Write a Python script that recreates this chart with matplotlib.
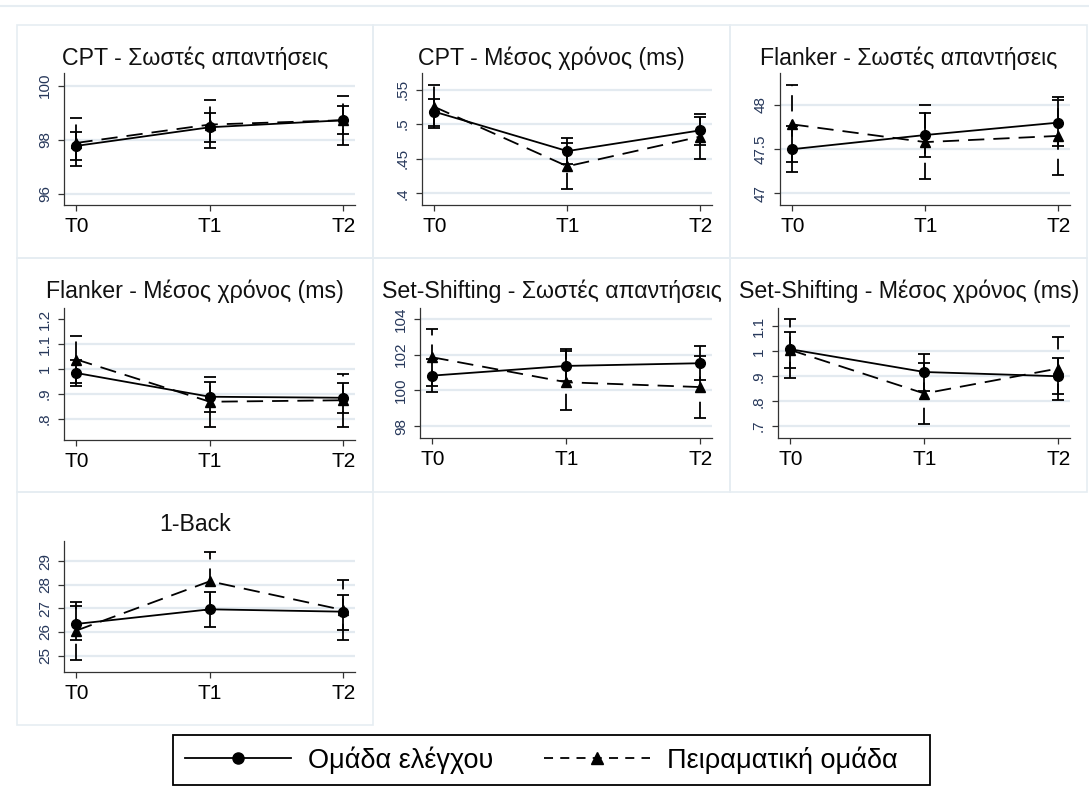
import matplotlib
matplotlib.use("Agg")
import matplotlib.pyplot as plt
from matplotlib.lines import Line2D
from matplotlib.patches import Rectangle

plt.rcParams["font.family"] = ["Liberation Sans", "DejaVu Sans"]

# -----------------------
# Data
# -----------------------
times = ["T0", "T1", "T2"]

titles = [
    "CPT - Σωστές απαντήσεις",
    "CPT - Μέσος χρόνος (ms)",
    "Flanker - Σωστές απαντήσεις",
    "Flanker - Μέσος χρόνος (ms)",
    "Set-Shifting - Σωστές απαντήσεις",
    "Set-Shifting - Μέσος χρόνος (ms)",
    "1-Back",
]

ctrl_mean = [
    [97.77, 98.46, 98.72],
    [0.518, 0.461, 0.491],
    [47.50, 47.66, 47.80],
    [0.984, 0.889, 0.885],
    [100.83, 101.37, 101.52],
    [1.008, 0.917, 0.900],
    [26.34, 26.96, 26.86],
]
ctrl_low = [
    [97.25, 97.93, 98.22],
    [0.498, 0.442, 0.470],
    [47.24, 47.415, 47.536],
    [0.933, 0.830, 0.823],
    [99.89, 100.52, 100.58],
    [0.933, 0.840, 0.828],
    [25.64, 26.22, 26.10],
]
ctrl_high = [
    [98.30, 99.00, 99.25],
    [0.537, 0.480, 0.511],
    [47.76, 47.906, 48.057],
    [1.038, 0.947, 0.945],
    [101.77, 102.22, 102.48],
    [1.077, 0.991, 0.975],
    [27.10, 27.70, 27.57],
]

exp_mean = [
    [97.88, 98.56, 98.72],
    [0.525, 0.439, 0.482],
    [47.78, 47.58, 47.65],
    [1.038, 0.869, 0.875],
    [101.85, 100.46, 100.19],
    [1.005, 0.831, 0.931],
    [26.06, 28.15, 26.93],
]
exp_low = [
    [97.04, 97.70, 97.80],
    [0.494, 0.406, 0.449],
    [47.35, 47.158, 47.207],
    [0.945, 0.769, 0.769],
    [100.27, 98.89, 98.44],
    [0.895, 0.708, 0.804],
    [24.82, 26.92, 25.64],
]
exp_high = [
    [98.79, 99.46, 99.62],
    [0.557, 0.472, 0.515],
    [48.226, 48.00, 48.087],
    [1.131, 0.968, 0.979],
    [103.41, 102.32, 101.94],
    [1.130, 0.952, 1.059],
    [27.26, 29.38, 28.20],
]

ytick_values = [
    [96, 98, 100],
    [0.4, 0.45, 0.5, 0.55],
    [47, 47.5, 48],
    [0.8, 0.9, 1.0, 1.1, 1.2],
    [98, 100, 102, 104],
    [0.7, 0.8, 0.9, 1.0, 1.1],
    [25, 26, 27, 28, 29],
]
ytick_labels = [
    ["96", "98", "100"],
    [".4", ".45", ".5", ".55"],
    ["47", "47.5", "48"],
    [".8", ".9", "1", "1.1", "1.2"],
    ["98", "100", "102", "104"],
    [".7", ".8", ".9", "1", "1.1"],
    ["25", "26", "27", "28", "29"],
]

legend_labels = ["Ομάδα ελέγχου", "Πειραματική ομάδα"]

# -----------------------
# Layout / style
# -----------------------
W, H = 1089, 811
ylims = [
    (95.58, 100.47), (0.383, 0.574), (46.87, 48.36), (0.716, 1.244),
    (97.35, 104.6), (0.653, 1.173), (24.30, 29.86),
]
# axes rectangles in pixels: left, top, right, bottom
axes_px = [
    (64, 73, 355, 205), (422, 73, 712, 205), (780, 73, 1070, 205),
    (64, 308, 355, 440), (420, 308, 712, 438), (778, 308, 1070, 438),
    (64, 541, 355, 672),
]
col_edges = [16.5, 373.3, 730.3, 1087]
row_edges = [25, 258.3, 491.5, 724.5]
legend_box = (173, 735, 930, 785)
grid_skip = {3: [1.2]}
blue_caps = [0, 3]

BLUE = "#2a5486"
TICK_COL = "#26375a"
GRID_COL = "#e3eaf0"
BOX_COL = "#e6edf2"
DASH = (9, 5)


def px_rect(l, t, r, b):
    return [l / W, 1 - b / H, (r - l) / W, (b - t) / H]


fig = plt.figure(figsize=(W / 100, H / 100), dpi=100)

# light line across the top and panel boxes
fig.add_artist(Line2D([0, 1], [1 - 6 / H, 1 - 6 / H], color=BOX_COL, lw=1.5))
for i in range(7):
    r, c = divmod(i, 3)
    l, rr = col_edges[c], col_edges[c + 1]
    t, b = row_edges[r], row_edges[r + 1]
    fig.add_artist(Rectangle((l / W, 1 - b / H), (rr - l) / W, (b - t) / H,
                             fill=False, edgecolor=BOX_COL, lw=1.2))
    fig.text((l + rr) / 2 / W, 1 - (t + 39.5) / H, titles[i], ha="center",
             va="baseline", fontsize=16.7, color="#111111")

x = list(range(len(times)))

for i in range(7):
    ax = fig.add_axes(px_rect(*axes_px[i]))

    for v in ytick_values[i]:
        if v in grid_skip.get(i, []):
            continue
        ax.axhline(v, color=GRID_COL, lw=1.6, zorder=0)

    # control group: solid
    cm = ctrl_mean[i]
    c_err = [[m - lo for m, lo in zip(cm, ctrl_low[i])],
             [hi - m for m, hi in zip(cm, ctrl_high[i])]]
    eb = ax.errorbar(x, cm, yerr=c_err, fmt="none", ecolor="black",
                     elinewidth=1.3, capsize=4, capthick=1.3, zorder=2)
    if i in blue_caps:
        for cl in eb[1]:
            cl.set_color(BLUE)

    # experimental group: dashed
    em = exp_mean[i]
    e_err = [[m - lo for m, lo in zip(em, exp_low[i])],
             [hi - m for m, hi in zip(em, exp_high[i])]]
    eb2 = ax.errorbar(x, em, yerr=e_err, fmt="none", ecolor="black",
                      elinewidth=1.3, capsize=4, capthick=1.3, zorder=2)
    for lc in eb2[2]:
        lc.set_linestyle((0, DASH))

    ax.plot(x, cm, color="black", lw=1.3, marker="o", markersize=7, zorder=3)
    ax.plot(x, em, color="black", lw=1.3, dashes=DASH, marker="^",
            markersize=7.5, zorder=3)

    ax.set_xlim(-0.093, 2.088)
    ax.set_ylim(*ylims[i])
    ax.set_xticks(x)
    ax.set_xticklabels(times, fontsize=15)
    ax.set_yticks(ytick_values[i])
    ax.set_yticklabels(ytick_labels[i], rotation=90, va="center",
                       fontsize=11, color=TICK_COL)

    for s in ["top", "right"]:
        ax.spines[s].set_visible(False)
    for s in ["left", "bottom"]:
        ax.spines[s].set_color("#333333")
        ax.spines[s].set_linewidth(0.9)
    ax.tick_params(axis="x", length=4, width=0.9, pad=4.5, color="#333333")
    ax.tick_params(axis="y", length=4.3, width=0.9, pad=4.5, color="#333333")
    ax.set_facecolor("none")

# legend: entries without frame, frame drawn as its own box
handles = [
    Line2D([], [], color="black", lw=1.3, marker="o", markersize=8),
    Line2D([], [], color="black", lw=1.3, dashes=(5, 4), marker="^",
           markersize=8),
]
lx0, ly0, lx1, ly1 = legend_box
fig.legend(handles, legend_labels, loc="center left",
           bbox_to_anchor=((lx0 + 12) / W, 1 - (ly0 + ly1) / 2 / H), ncol=2,
           fontsize=19.5, handlelength=3.9, handletextpad=0.63,
           columnspacing=1.9, borderpad=0, borderaxespad=0, frameon=False)
fig.add_artist(Rectangle((lx0 / W, 1 - ly1 / H), (lx1 - lx0) / W,
                         (ly1 - ly0) / H, fill=False, edgecolor="black",
                         lw=1.3))

fig.savefig("out.png", dpi=100)
